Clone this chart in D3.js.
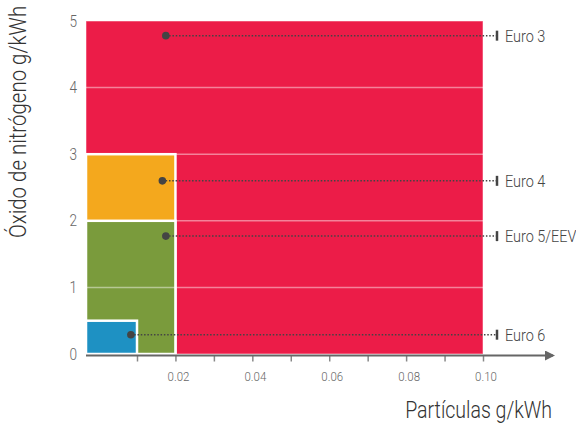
<!DOCTYPE html>
<html>
<head>
<meta charset="utf-8">
<script src="https://cdn.jsdelivr.net/npm/d3@7"></script>
<style>
  html, body { margin: 0; padding: 0; background: #fff; }
  svg { display: block; }
  text { font-family: Roboto, "Noto Sans", sans-serif; font-weight: 300; }
</style>
</head>
<body>
<svg id="chart" width="576" height="424"></svg>
<script>
// Emission standards: particulate and NOx limits (g/kWh)
const standards   = ["Euro 3", "Euro 4", "Euro 5/EEV", "Euro 6"];
const pmLimits    = [0.10, 0.02, 0.02, 0.01];
const noxLimits   = [5.0, 3.0, 2.0, 0.5];
const colors      = ["#ec1c48", "#f4a81d", "#7a9b3c", "#1e91c3"];
// marker position inside each limit box
const markerPm    = [0.0175, 0.0166, 0.0175, 0.0088];
const markerNox   = [4.78, 2.60, 1.77, 0.29];
const xTickValues = [0.01, 0.02, 0.03, 0.04, 0.05, 0.06, 0.07, 0.08, 0.09, 0.10];
const xTickLabels = [0.02, 0.04, 0.06, 0.08, 0.10];
const yTickLabels = [0, 1, 2, 3, 4, 5];

const svg = d3.select("#chart");
const cond = 0.85; // horizontal squeeze for a condensed look

// first hundredth is drawn wider than the rest
const x = d3.scaleLinear().domain([0, 0.01, 0.10]).range([86, 137, 483]);
const y = d3.scaleLinear().domain([0, 5]).range([354, 21]);

function squeezed(sel, px, py) {
  return sel.attr("transform", `translate(${px},${py}) scale(${cond},1)`);
}

// limit boxes, widest first
const boxes = d3.range(standards.length).map(i => ({
  pm: pmLimits[i], nox: noxLimits[i], color: colors[i], i
}));
svg.append("g").selectAll("rect").data(boxes).join("rect")
  .attr("x", d => x(0))
  .attr("y", d => y(d.nox))
  .attr("width", d => x(d.pm) - x(0))
  .attr("height", d => y(0) - y(d.nox))
  .attr("fill", d => d.color)
  .attr("stroke", "#fff")
  .attr("stroke-opacity", d => d.i === 0 ? 0.5 : 1)
  .attr("stroke-width", d => d.i === 0 ? 1 : 2.5);

// light horizontal gridlines over the boxes
svg.append("g").selectAll("line").data([1, 2, 3, 4]).join("line")
  .attr("x1", x(0)).attr("x2", x(0.10))
  .attr("y1", d => y(d)).attr("y2", d => y(d))
  .attr("stroke", "#fff").attr("stroke-opacity", 0.45).attr("stroke-width", 1.5);

// x axis with arrow
const axisY = y(0) + 1.5;
svg.append("defs").append("marker")
  .attr("id", "arrow").attr("viewBox", "0 0 10 10")
  .attr("refX", 8).attr("refY", 5)
  .attr("markerWidth", 5).attr("markerHeight", 5)
  .attr("orient", "auto")
  .append("path").attr("d", "M0,0 L10,5 L0,10 z").attr("fill", "#666");

const xAxis = d3.axisBottom(x)
  .tickValues(xTickValues)
  .tickSize(6)
  .tickFormat("");
const gx = svg.append("g").attr("transform", `translate(0,${axisY})`).call(xAxis);
gx.select(".domain").remove();
gx.selectAll(".tick line").attr("stroke", "#888").attr("stroke-width", 1.5);
svg.append("line")
  .attr("x1", x(0)).attr("x2", 553)
  .attr("y1", axisY).attr("y2", axisY)
  .attr("stroke", "#666").attr("stroke-width", 2)
  .attr("marker-end", "url(#arrow)");

svg.append("g").selectAll("text").data(xTickLabels).join("text")
  .each(function (d) { squeezed(d3.select(this), x(d) + 3, 381); })
  .attr("text-anchor", "middle")
  .attr("font-size", 13.5)
  .attr("fill", "#666")
  .text(d => d3.format(".2f")(d));

// y tick labels
svg.append("g").selectAll("text").data(yTickLabels).join("text")
  .each(function (d) { squeezed(d3.select(this), 77, y(d)); })
  .attr("text-anchor", "end")
  .attr("dy", "0.35em")
  .attr("font-size", 16)
  .attr("fill", "#666")
  .text(d => d);

// markers with dotted leaders to the labels
const capX = 497;
const marks = d3.range(standards.length).map(i => ({
  name: standards[i], pm: markerPm[i], nox: markerNox[i]
}));
const mg = svg.append("g");
mg.selectAll("line.leader").data(marks).join("line")
  .attr("class", "leader")
  .attr("x1", d => x(d.pm)).attr("x2", capX)
  .attr("y1", d => y(d.nox)).attr("y2", d => y(d.nox))
  .attr("stroke", "#444").attr("stroke-width", 1.5)
  .attr("stroke-dasharray", "1.5,1.8");
mg.selectAll("line.cap").data(marks).join("line")
  .attr("class", "cap")
  .attr("x1", capX).attr("x2", capX)
  .attr("y1", d => y(d.nox) - 5).attr("y2", d => y(d.nox) + 5)
  .attr("stroke", "#444").attr("stroke-width", 2.5);
mg.selectAll("circle").data(marks).join("circle")
  .attr("cx", d => x(d.pm)).attr("cy", d => y(d.nox))
  .attr("r", 3.8).attr("fill", "#444");
mg.selectAll("text").data(marks).join("text")
  .each(function (d) { squeezed(d3.select(this), 505, y(d.nox)); })
  .attr("dy", "0.35em")
  .attr("font-size", 17)
  .attr("fill", "#444")
  .text(d => d.name);

// axis titles
squeezed(svg.append("text"), 552, 418)
  .attr("text-anchor", "end")
  .attr("font-size", 23)
  .attr("fill", "#333")
  .text("Partículas g/kWh");

svg.append("text")
  .attr("transform", `translate(26,122) rotate(-90) scale(0.87,1)`)
  .attr("text-anchor", "middle")
  .attr("font-size", 23.5)
  .attr("fill", "#333")
  .text("Óxido de nitrógeno g/kWh");
</script>
</body>
</html>
